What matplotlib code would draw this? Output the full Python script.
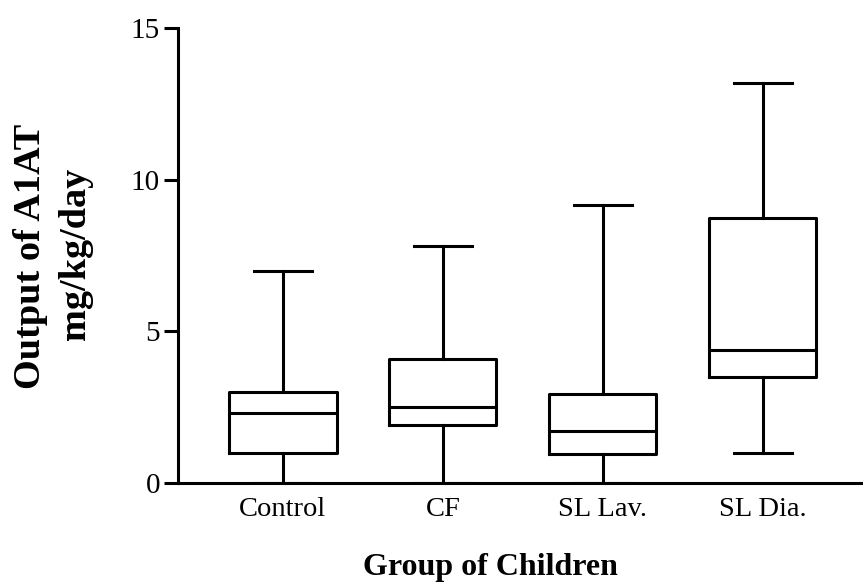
import matplotlib
matplotlib.use('Agg')
import matplotlib.pyplot as plt

groups = ['Control', 'CF', 'SL Lav.', 'SL Dia.']
whisker_low = [0.0, 0.0, 0.0, 1.0]
q1 = [1.0, 1.9, 0.95, 3.5]
median = [2.3, 2.5, 1.7, 4.4]
q3 = [3.0, 4.1, 2.95, 8.75]
whisker_high = [7.0, 7.8, 9.15, 13.2]
yticks = [0, 5, 10, 15]

plt.rcParams['font.family'] = ['Liberation Serif', 'DejaVu Serif']

W, H = 863, 582
fig = plt.figure(figsize=(W / 100, H / 100), dpi=100)
ax = fig.add_axes([178 / W, 1 - 483 / H, (862 - 178) / W, (483 - 28) / H])

stats = [dict(label=g, whislo=a, q1=b, med=c, q3=d, whishi=e)
         for g, a, b, c, d, e in zip(groups, whisker_low, q1, median, q3, whisker_high)]
positions = list(range(1, len(groups) + 1))
lw = 2.2
ax.bxp(stats, positions=positions, widths=0.67, capwidths=0.36, showfliers=False,
       manage_ticks=False,
       boxprops=dict(color='black', linewidth=lw),
       whiskerprops=dict(color='black', linewidth=lw),
       capprops=dict(color='black', linewidth=lw),
       medianprops=dict(color='black', linewidth=lw))

ax.set_xlim(0.344, 4.62)
ax.set_ylim(0, 15)
ax.set_xticks(positions, groups)
ax.set_yticks(yticks)
for s in ['top', 'right']:
    ax.spines[s].set_visible(False)
for s in ['left', 'bottom']:
    ax.spines[s].set_linewidth(lw)
ax.tick_params(axis='y', length=10, width=lw, pad=3, labelsize=21)
ax.tick_params(axis='x', length=0, pad=10, labelsize=20.5)

fig.text(490 / W, 1 - 575 / H, 'Group of Children', ha='center', va='baseline',
         fontsize=23, fontweight='bold')
fig.text(31 / W, 1 - 256 / H, 'Output of A1AT', ha='center', va='center',
         rotation=90, fontsize=27.5, fontweight='bold')
fig.text(75 / W, 1 - 254 / H, 'mg/kg/day', ha='center', va='center',
         rotation=90, fontsize=27.5, fontweight='bold')

fig.savefig('out.png', dpi=100)
